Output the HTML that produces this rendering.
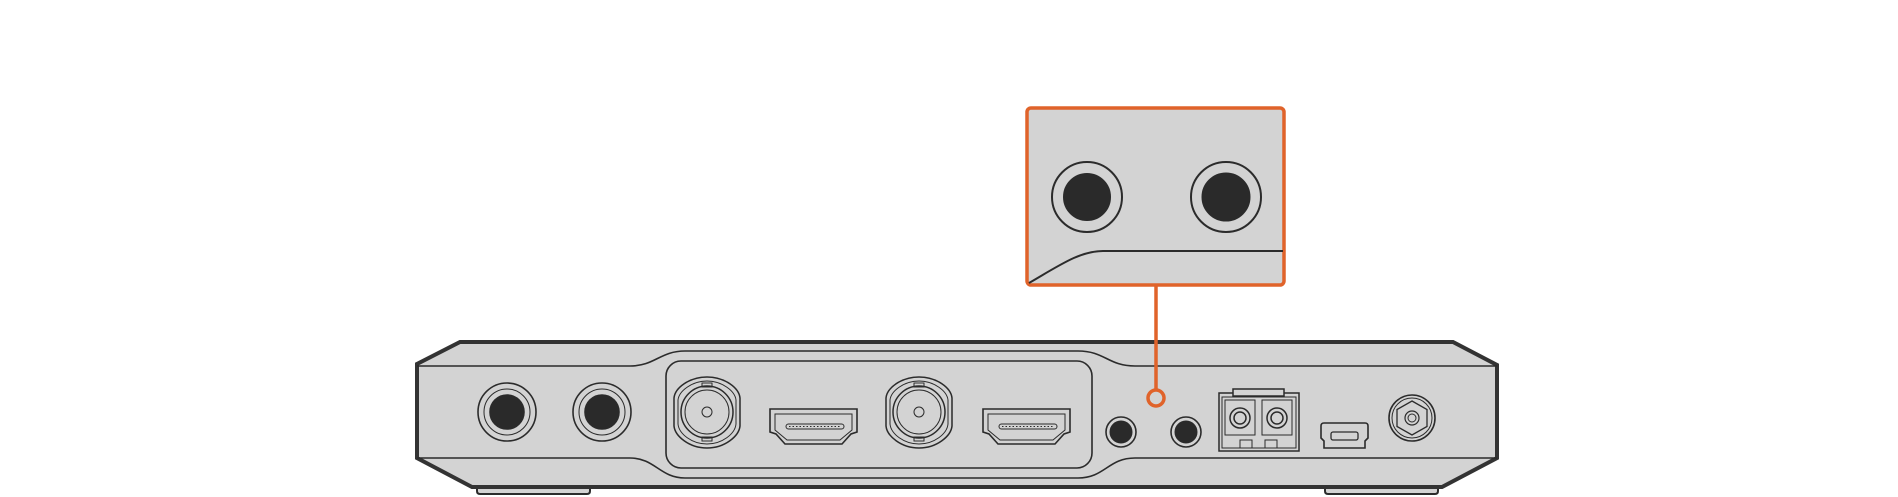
<!DOCTYPE html>
<html><head><meta charset="utf-8"><style>html,body{margin:0;padding:0;background:#fff}svg{display:block}</style></head>
<body>
<svg width="1898" height="497" viewBox="0 0 1898 497" xmlns="http://www.w3.org/2000/svg">
<g stroke="#2b2b2b" fill="none">
<!-- feet -->
<path d="M477,486 L477,491 Q477,494 480,494 L587,494 Q590,494 590,491 L590,486" fill="#d3d3d3" stroke-width="2"/>
<path d="M1325,486 L1325,491 Q1325,494 1328,494 L1435,494 Q1438,494 1438,491 L1438,486" fill="#d3d3d3" stroke-width="2"/>
<!-- body -->
<path d="M460,342 L1453,342 L1497,365 L1497,458 L1442,487 L472,487 L417,458 L417,364 Z" fill="#d3d3d3" stroke="#333" stroke-width="4"/>
<!-- inner lines -->
<path d="M417,366 L630,366 C655,366 660,351 685,351 L1078,351 C1105,351 1108,366 1135,366 L1497,366" stroke-width="1.6"/>
<path d="M417,458 L630,458 C655,458 660,478 685,478 L1078,478 C1105,478 1108,458 1135,458 L1497,458" stroke-width="1.6"/>
<!-- inner panel -->
<rect x="666" y="361" width="426" height="107" rx="15" stroke-width="1.6"/>
<!-- jacks -->
<g stroke-width="1.6">
<circle cx="507" cy="412" r="29"/><circle cx="507" cy="412" r="23" stroke-width="1"/><circle cx="507" cy="412" r="17" fill="#2a2a2a"/>
<circle cx="602" cy="412" r="29"/><circle cx="602" cy="412" r="23" stroke-width="1"/><circle cx="602" cy="412" r="17" fill="#2a2a2a"/>
</g>
<!-- BNC -->
<g id="bnc" stroke-width="1.5">
<path d="M707,377 C725,377 739,388 740,398 L740,426 C739,436 725,448 707,448 C689,448 675,436 674,426 L674,398 C675,388 689,377 707,377 Z"/>
<path d="M707,381 C722,381 735,391 736,400 L736,424 C735,434 722,444 707,444 C692,444 679,434 678,424 L678,400 C679,391 692,381 707,381 Z" stroke-width="1"/>
<circle cx="707" cy="412" r="26"/><circle cx="707" cy="412" r="22" stroke-width="1"/><circle cx="707" cy="412" r="5" stroke-width="1"/>
<rect x="702" y="383" width="10" height="4" stroke-width="1"/><rect x="702" y="437" width="10" height="4" stroke-width="1"/>
</g>
<use href="#bnc" x="212"/>
<!-- HDMI -->
<g id="hdmi" stroke-width="1.6">
<path d="M770,409 L857,409 L857,432 L851,434 L842,444 L785,444 L776,434 L770,432 Z"/>
<path d="M775,414 L852,414 L852,430 L840,440 L787,440 L775,430 Z" stroke-width="1"/>
<rect x="786" y="424" width="58" height="5" rx="2.5" stroke-width="1"/>
<line x1="789" y1="426.5" x2="841" y2="426.5" stroke-width="1" stroke-dasharray="1.5 2"/>
</g>
<use href="#hdmi" x="213"/>
<!-- small jacks -->
<circle cx="1121" cy="432" r="15" stroke-width="1.6"/><circle cx="1121" cy="432" r="11" fill="#2a2a2a"/>
<circle cx="1186" cy="432" r="15" stroke-width="1.6"/><circle cx="1186" cy="432" r="11" fill="#2a2a2a"/>
<!-- SFP -->
<g stroke-width="1.5">
<rect x="1219" y="393" width="80" height="58"/>
<rect x="1222" y="397" width="74" height="51" stroke-width="1"/>
<rect x="1233" y="389" width="51" height="7" fill="#d3d3d3"/>
<rect x="1225" y="400" width="30" height="35" stroke-width="1"/>
<rect x="1262" y="400" width="30" height="35" stroke-width="1"/>
<circle cx="1240" cy="418" r="10"/><circle cx="1240" cy="418" r="6"/>
<circle cx="1277" cy="418" r="10"/><circle cx="1277" cy="418" r="6"/>
<rect x="1240" y="440" width="12" height="8" stroke-width="1"/><rect x="1265" y="440" width="12" height="8" stroke-width="1"/>
</g>
<!-- mini usb -->
<path d="M1324,423 L1365,423 Q1368,423 1368,426 L1368,438 L1365,441 L1365,448 L1324,448 L1324,441 L1321,438 L1321,426 Q1321,423 1324,423 Z" stroke-width="1.6"/>
<rect x="1331" y="432" width="27" height="8" rx="2" stroke-width="1.3"/>
<!-- power -->
<circle cx="1412" cy="418" r="23" stroke-width="1.6"/><circle cx="1412" cy="418" r="20" stroke-width="1"/>
<polygon points="1412,401 1427,409.5 1427,426.5 1412,435 1397,426.5 1397,409.5" stroke-width="1.3"/>
<circle cx="1412" cy="418" r="7" stroke-width="1.2"/><circle cx="1412" cy="418" r="4" stroke-width="1"/>
</g>
<!-- callout -->
<line x1="1156" y1="284" x2="1156" y2="390" stroke="#E0632A" stroke-width="3.5"/>
<circle cx="1156" cy="398" r="8" fill="none" stroke="#E0632A" stroke-width="3.5"/>
<rect x="1027" y="108" width="257" height="177" rx="4" fill="#d3d3d3" stroke="#E0632A" stroke-width="3.5"/>
<g stroke="#2b2b2b" fill="none">
<circle cx="1087" cy="197" r="35" stroke-width="2"/><circle cx="1087" cy="197" r="23.5" fill="#2a2a2a"/>
<circle cx="1226" cy="197" r="35" stroke-width="2"/><circle cx="1226" cy="197" r="24" fill="#2a2a2a"/>
<path d="M1029,283 C1060,265 1080,251 1103,251 L1283,251" stroke-width="2"/>
</g>
</svg>
</body></html>
